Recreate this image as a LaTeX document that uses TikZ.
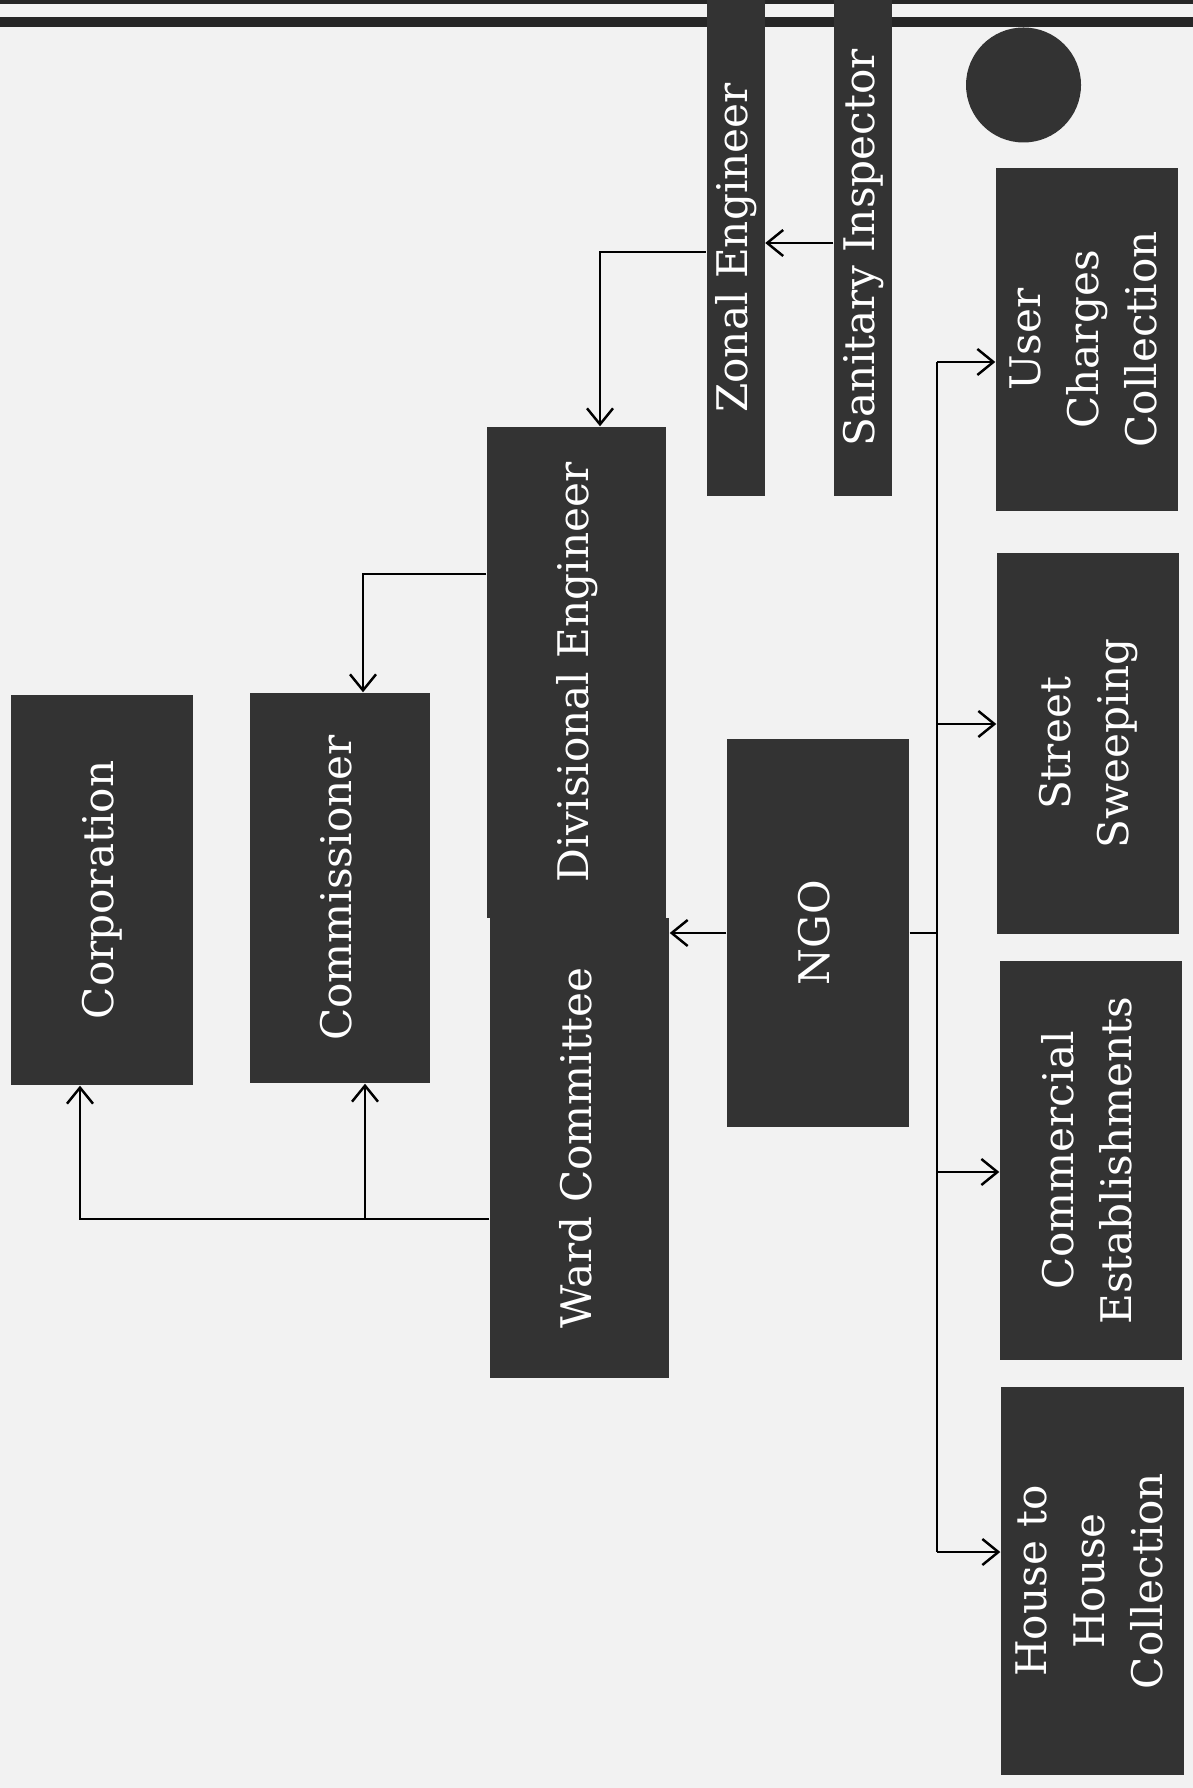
\documentclass[tikz,border=0pt]{standalone}
\usepackage{fontspec}
\setmainfont{DejaVu Serif}
\usetikzlibrary{arrows.meta}
\definecolor{boxgray}{HTML}{333333}
\definecolor{paper}{HTML}{F2F2F2}
\newcommand{\vtxt}[1]{\rotatebox{90}{\begin{tabular}{@{}c@{}}#1\end{tabular}}}
\tikzset{
	blk/.style={fill=boxgray, text=white, inner sep=0pt, font=\fontsize{12}{16.5}\selectfont},
	arr/.style={-{Straight Barb[length=1.6mm,width=2.6mm]}, line width=0.7pt},
	lnk/.style={line width=0.7pt}
}

\begin{document}
\begin{tikzpicture}
	\fill[paper](0,0) rectangle (11.93,-17.88);
	\useasboundingbox (0,0) rectangle (11.93,-17.88);
	\fill[black!85](0,0) rectangle (11.93,-0.04);
	\fill[black!85](0,-0.17) rectangle (11.93,-0.27);
	\node[blk, minimum width=1.82cm, minimum height=3.90cm](corp) at (1.02,-8.90){\vtxt{Corporation}};
	\node[blk, minimum width=1.80cm, minimum height=3.90cm](comm) at (3.40,-8.88){\vtxt{Commissioner}};
	\node[blk, minimum width=1.79cm, minimum height=4.91cm](de) at (5.765,-6.725){\vtxt{Divisional Engineer}};
	\node[blk, minimum width=1.79cm, minimum height=4.60cm](wc) at (5.795,-11.48){\vtxt{Ward Committee}};
	\node[blk, minimum width=1.82cm, minimum height=3.88cm](ngo) at (8.18,-9.33){\vtxt{NGO}};
	\node[blk, minimum width=0.53cm, minimum height=4.96cm](ze) at (7.355,-2.48){\vtxt{Zonal Engineer}};
	\node[blk, minimum width=0.54cm, minimum height=4.96cm](si) at (8.63,-2.48){\vtxt{Sanitary Inspector}};
	\node[circle, fill=boxgray, minimum size=1.15cm, inner sep=0pt](dot) at (10.235,-0.85){};
	\node[blk, minimum width=1.82cm, minimum height=3.43cm](ucc) at (10.87,-3.395){\vtxt{User\\Charges\\Collection}};
	\node[blk, minimum width=1.82cm, minimum height=3.81cm](ss) at (10.88,-7.435){\vtxt{Street\\Sweeping}};
	\node[blk, minimum width=1.82cm, minimum height=3.99cm](ce) at (10.91,-11.605){\vtxt{Commercial\\Establishments}};
	\node[blk, minimum width=1.83cm, minimum height=3.88cm](hhc) at (10.925,-15.81){\vtxt{House to\\House\\Collection}};
	\coordinate(zin) at ([xshift=0.235cm]de.north);
	\coordinate(cin) at ([xshift=0.23cm]comm.north);
	\coordinate(cup) at ([xshift=0.25cm]comm.south);
	\coordinate(wcj) at ([yshift=-0.71cm]wc.west);
	\coordinate(b1) at (9.37,-3.62);
	\coordinate(b2) at (9.37,-7.24);
	\coordinate(b3) at (9.37,-11.72);
	\coordinate(b4) at (9.37,-15.52);
	\draw[arr]([yshift=0.05cm]si.west) -- ([yshift=0.05cm]ze.east);
	\draw[arr]([yshift=-0.04cm]ze.west) -| (zin);
	\draw[arr]([yshift=0.985cm]de.west) -| (cin);
	\draw[arr](wcj) -| ([xshift=-0.22cm]corp.south);
	\draw[arr](cup |- wcj) -- (cup);
	\draw[arr](ngo.west) -- (ngo.west -| wc.east);
	\draw[lnk](ngo.east) -- (ngo.east -| b1);
	\draw[lnk](b1) -- (b4);
	\foreach \b/\n in {b1/ucc,b2/ss,b3/ce,b4/hhc}
		\draw[arr](\b) -- (\b -| \n.west);
\end{tikzpicture}
\end{document}
